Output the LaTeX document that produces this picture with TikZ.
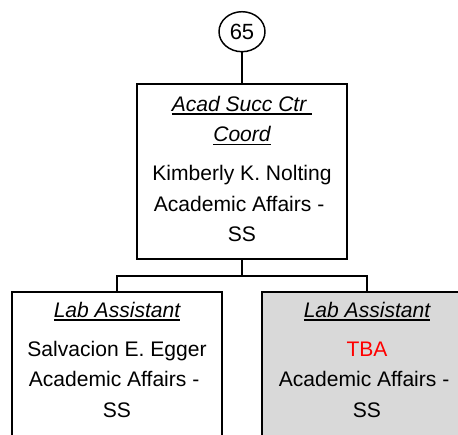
\documentclass[tikz,border=0pt]{standalone}
\usepackage{fontspec}
\setmainfont{Liberation Sans}
\usepackage{tikz}
\usetikzlibrary{shapes.geometric, positioning}
\definecolor{vacantgray}{RGB}{217,217,217}
\definecolor{tbared}{RGB}{255,0,0}
\newcommand{\orgfont}{\fontsize{15.8}{22.7}\selectfont}
\newcommand{\orgtitle}[1]{\setbox0=\hbox{\itshape #1}\rlap{\rule[-2.4pt]{\wd0}{1.2pt}}\box0}
\tikzset{
    orgbox/.style={rectangle, draw=black, fill=#1, minimum width=157.5pt, minimum height=131.25pt, inner sep=0pt, line width=1.2pt},
    orgbox/.default=white,
    orgtext/.style={align=center, font=\orgfont, inner sep=0pt},
    orgcirc/.style={ellipse, draw=black, fill=white, minimum width=34.5pt, minimum height=30pt, inner sep=0pt, font=\fontsize{16.5}{18}\selectfont, line width=1.1pt},
    orgline/.style={line width=1.2pt, draw=black}
}

\begin{document}
\begin{tikzpicture}[x=0.75pt, y=-0.75pt]

\clip (0,0) rectangle (458,435);

\node[orgcirc] (num) at (242,31.7) {65};
\node[orgbox] (coord) at (242,171.5) {};
\node[orgbox] (lab1) at (117,379.5) {};
\node[orgbox=vacantgray] (lab2) at (367,379.5) {};

\node[orgtext, below=9.75pt of coord.north] (coordtxt) {\orgtitle{Acad Succ Ctr\ }\\ \orgtitle{Coord}\\[6.5pt] Kimberly K. Nolting\\ Academic Affairs -\ \mbox{}\\ SS};
\node[orgtext, below=8.25pt of lab1.north] (lab1txt) {\orgtitle{Lab Assistant}\\[6.5pt] Salvacion E. Egger\\ Academic Affairs -\ \mbox{}\\ SS};
\node[orgtext, below=8.25pt of lab2.north] (lab2txt) {\orgtitle{Lab Assistant}\\[6.5pt] \textcolor{tbared}{TBA}\\ Academic Affairs -\ \mbox{}\\ SS};

\draw[orgline] (num) -- (coord);
\draw[orgline] (coord.south) -- ++(0,16) -| (lab1.north);
\draw[orgline] (coord.south) -- ++(0,16) -| (lab2.north);

\end{tikzpicture}
\end{document}
